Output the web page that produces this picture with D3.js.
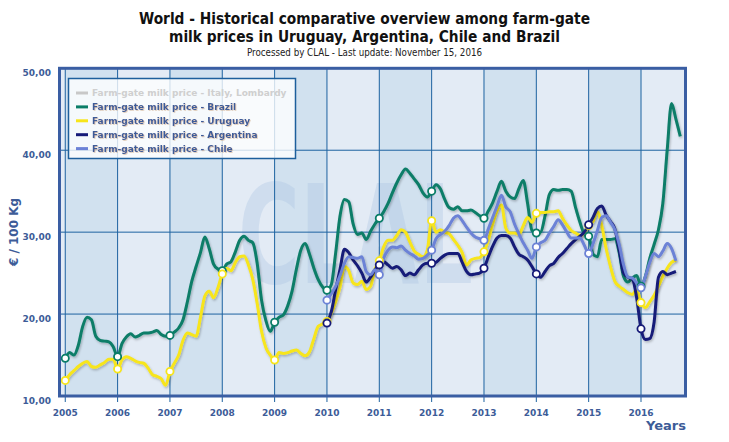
<!DOCTYPE html>
<html><head><meta charset="utf-8">
<script src="https://cdn.jsdelivr.net/npm/d3@7"></script>
<style>body{margin:0;background:#fff}</style>
</head><body>
<svg id="c" width="729" height="442"></svg>
<script>
// ---- data ----
const years = [2005,2006,2007,2008,2009,2010,2011,2012,2013,2014,2015,2016];
const yTicks = [10,20,30,40,50];
const yTickLabels = ["10,00","20,00","30,00","40,00","50,00"];
const seriesNames = ["Farm-gate milk price - Italy, Lombardy","Farm-gate milk price - Brazil","Farm-gate milk price - Uruguay","Farm-gate milk price - Argentina","Farm-gate milk price - Chile"];
// monthly values, Brazil & Uruguay from Jan 2005, Argentina & Chile from Jan 2010
const brazil = [
 14.6,15.3,15.0,16.2,18.5,19.6,19.3,17.3,16.8,16.7,16.6,16.0,
 14.8,16.4,17.2,17.6,17.2,17.4,17.7,17.7,17.8,18.0,17.5,17.3,
 17.4,17.8,18.3,19.3,21.5,24.0,25.8,27.5,29.4,28.0,26.1,25.5,
 25.3,26.1,26.4,27.6,29.0,29.5,29.0,28.7,26.2,21.7,19.2,17.9,
 19.0,19.6,19.9,21.0,22.8,25.5,27.8,28.6,27.3,25.6,24.2,23.3,
 22.9,23.6,27.5,32.0,34.0,33.7,31.0,29.7,29.9,29.1,30.1,31.0,
 31.7,32.5,33.5,34.8,36.0,37.0,37.7,37.2,36.5,35.8,34.8,34.3,
 35.0,35.8,35.3,34.0,33.0,32.8,33.1,32.6,32.6,32.7,32.4,32.0,
 31.7,32.6,33.6,35.0,36.2,35.0,34.3,34.1,35.3,36.3,33.5,30.2,
 29.9,30.0,32.0,34.6,35.2,35.1,35.2,35.2,35.0,33.0,31.2,29.8,
 29.5,27.3,27.0,29.1,29.1,29.1,29.2,27.5,24.6,23.9,24.4,24.7,
 23.4,24.6,26.8,28.5,30.3,33.5,40.0,45.7,43.8,41.7];
const uruguay = [
 11.9,12.6,13.1,13.6,14.0,14.2,13.6,13.5,13.8,14.1,14.5,14.5,
 13.3,14.4,14.8,14.6,14.3,14.1,14.0,13.4,12.6,12.4,12.1,11.3,
 13.0,14.0,15.0,16.8,17.7,17.5,17.3,19.6,22.2,22.8,22.0,23.2,
 24.9,25.6,25.3,26.3,27.0,27.1,26.0,24.2,21.3,17.9,15.9,15.0,
 14.4,15.3,15.2,15.3,15.5,15.6,15.2,14.9,15.4,17.0,18.5,18.8,
 19.1,20.1,21.5,23.3,25.8,25.3,23.8,23.6,24.0,23.0,23.4,25.5,
 26.5,28.2,29.0,29.0,29.6,30.3,30.0,28.8,27.7,27.3,27.0,27.8,
 31.4,30.0,30.3,30.0,29.8,29.1,28.4,27.5,26.0,26.6,26.8,26.9,
 27.6,29.0,31.0,32.6,33.3,30.5,29.9,29.9,29.7,30.8,31.8,31.2,
 32.3,32.4,32.4,32.5,32.5,32.6,31.7,30.9,30.2,29.9,29.6,29.9,
 30.8,31.3,32.5,30.8,28.0,25.8,24.0,23.4,23.0,22.6,22.4,23.0,
 21.4,20.8,21.5,22.3,23.4,24.6,25.6,26.3,26.6];
const argentina = [
 18.9,20.3,23.0,25.5,27.9,27.5,26.6,25.9,25.0,23.9,24.5,25.4,
 26.0,26.4,26.0,25.6,25.8,25.4,24.7,25.0,24.8,25.4,26.0,26.2,
 26.2,26.3,26.8,27.2,27.4,27.4,27.4,26.3,25.2,24.8,24.9,25.0,
 25.6,27.0,28.3,29.3,29.6,29.6,29.3,28.2,27.3,27.0,26.6,25.8,
 24.9,24.5,25.2,25.9,26.2,26.9,27.4,28.0,28.6,29.1,29.5,30.0,
 30.9,31.8,32.9,33.2,32.1,31.3,30.4,27.8,25.0,24.5,24.3,22.0,
 18.2,16.9,17.0,19.0,24.5,25.2,24.8,25.0,25.2];
const chile = [
 21.7,22.5,23.4,24.7,26.2,27.0,26.9,26.8,27.0,25.2,24.8,25.4,
 24.8,26.8,27.8,28.2,28.1,28.3,27.8,27.4,27.1,26.7,26.8,27.2,
 27.8,29.2,29.7,30.1,30.8,31.7,32.0,31.4,30.6,29.9,29.4,29.2,
 29.0,30.4,31.8,33.2,34.5,33.1,32.5,31.0,29.8,28.7,27.8,26.8,
 28.2,28.7,29.0,29.9,30.7,31.5,30.9,30.0,29.3,29.3,29.3,28.4,
 27.4,28.6,30.2,31.8,32.0,31.2,30.3,28.5,26.0,24.5,24.4,23.8,
 23.2,24.6,26.3,27.4,27.0,27.7,28.6,28.0,26.5];
const startYears = [null, 2005, 2005, 2010, 2010];
const colors = ["#c8c8c8","#0a7d67","#f7e51b","#161a78","#6c82d6"];

// ---- layout ----
const svg = d3.select('#c');
const L=59.5, R=685.5, T=68.3, B=396;
const x = d3.scaleLinear().domain([2004.89, 2016.85]).range([L,R]);
const y = d3.scaleLinear().domain([10,50]).range([B,T]);

const defs = svg.append('defs');
const f = defs.append('filter').attr('id','sh').attr('x','-5%').attr('y','-5%').attr('width','110%').attr('height','115%');
f.append('feDropShadow').attr('dx',1).attr('dy',1.5).attr('stdDeviation',0.8).attr('flood-color','#000').attr('flood-opacity',0.25);
const ft = defs.append('filter').attr('id','tsh');
ft.append('feDropShadow').attr('dx',0.8).attr('dy',0.8).attr('stdDeviation',0.3).attr('flood-color','#c9a27a').attr('flood-opacity',0.6);
defs.append('clipPath').attr('id','clip').append('rect').attr('x',L).attr('y',T).attr('width',R-L).attr('height',B-T);

// background + bands
svg.append('rect').attr('x',L).attr('y',T).attr('width',R-L).attr('height',B-T).attr('fill','#e3ebf5');
svg.append('g').selectAll('rect').data(years.filter((d,i)=>i%2===0)).join('rect')
  .attr('x',d=>x(d)).attr('y',T).attr('width',d=>Math.min(x(d+1),R)-x(d)).attr('height',B-T)
  .attr('fill','#d1e1ef');

// watermark
svg.append('text').attr('x',238).attr('y',283).attr('font-family','DejaVu Sans').attr('font-weight','bold')
  .attr('font-size',138).attr('textLength',235).attr('lengthAdjust','spacingAndGlyphs')
  .attr('fill','#a9c2e2').attr('fill-opacity',0.35).text('CLAL');

// grid
const grid = svg.append('g').attr('stroke','#1d62a0').attr('stroke-width',1);
grid.selectAll('.h').data(yTicks.slice(1,-1)).join('line').attr('x1',L).attr('x2',R).attr('y1',d=>y(d)).attr('y2',d=>y(d));
grid.selectAll('.v').data(years).join('line').attr('x1',d=>x(d)).attr('x2',d=>x(d)).attr('y1',T).attr('y2',B+6);

// axis labels
const lab = '#3d5c98';
svg.append('g').selectAll('text').data(yTicks).join('text')
  .attr('x',51).attr('y',d=>y(d)+7.5).attr('text-anchor','end')
  .attr('font-family','DejaVu Sans').attr('font-weight','bold').attr('font-size',9).attr('fill',lab)
  .text((d,i)=>yTickLabels[i]);
svg.append('g').selectAll('text').data(years).join('text')
  .attr('x',d=>x(d)).attr('y',416).attr('text-anchor','middle')
  .attr('font-family','DejaVu Sans').attr('font-weight','bold').attr('font-size',9).attr('fill',lab)
  .text(d=>d);
svg.append('text').attr('transform','translate(18,232) rotate(-90)').attr('text-anchor','middle')
  .attr('font-family','DejaVu Sans').attr('font-weight','bold').attr('font-size',12).attr('fill',lab).text('€ / 100 Kg');
svg.append('text').attr('x',686).attr('y',430).attr('text-anchor','end')
  .attr('font-family','DejaVu Sans').attr('font-weight','bold').attr('font-size',13).attr('fill',lab).text('Years');

// lines
const line = d3.line().x(d=>x(d.t)).y(d=>y(d.v)).curve(d3.curveMonotoneX);
const allData = [null, brazil, uruguay, argentina, chile];
const plot = svg.append('g').attr('clip-path','url(#clip)');
const pts = [];
for (let s=1; s<5; s++) {
  const data = allData[s].map((v,i)=>({t:startYears[s]+i/12, v, jan:i%12===0}));
  pts.push({s, data});
  plot.append('path').datum(data).attr('d',line).attr('fill','none')
    .attr('stroke',colors[s]).attr('stroke-width',3).attr('stroke-linejoin','round').attr('filter','url(#sh)');
}
pts.forEach(p=>{
  plot.append('g').selectAll('circle').data(p.data.filter(d=>d.jan)).join('circle')
    .attr('cx',d=>x(d.t)).attr('cy',d=>y(d.v)).attr('r',3.6)
    .attr('fill','#fff').attr('stroke',colors[p.s]).attr('stroke-width',1.8);
});

// border
svg.append('rect').attr('x',L).attr('y',T).attr('width',R-L).attr('height',B-T)
  .attr('fill','none').attr('stroke','#3a5ea3').attr('stroke-width',3);

// legend
const lg = svg.append('g');
lg.append('rect').attr('x',68.5).attr('y',78.5).attr('width',227).attr('height',80)
  .attr('fill','#ffffff').attr('fill-opacity',0.78).attr('stroke','#1d5f9c').attr('stroke-width',1.5);
seriesNames.forEach((n,i)=>{
  const yy = 93 + i*13.9;
  lg.append('line').attr('x1',76).attr('x2',88).attr('y1',yy).attr('y2',yy)
    .attr('stroke',colors[i]).attr('stroke-width',3);
  lg.append('text').attr('x',92).attr('y',yy+3.4)
    .attr('font-family','DejaVu Sans').attr('font-weight','bold').attr('font-size',9)
    .attr('fill', i===0 ? '#cfcfcf' : '#3d5c98').attr('filter', i===0?null:'url(#tsh)').text(n);
});

// titles
svg.append('text').attr('x',364.5).attr('y',24).attr('text-anchor','middle')
  .attr('font-family','DejaVu Sans Condensed, DejaVu Sans').attr('font-stretch','condensed').attr('font-weight','bold').attr('font-size',15.3).attr('fill','#111')
  .text('World - Historical comparative overview among farm-gate');
svg.append('text').attr('x',364.5).attr('y',42).attr('text-anchor','middle')
  .attr('font-family','DejaVu Sans Condensed, DejaVu Sans').attr('font-stretch','condensed').attr('font-weight','bold').attr('font-size',15.3).attr('fill','#111')
  .text('milk prices in Uruguay, Argentina, Chile and Brazil');
svg.append('text').attr('x',364.5).attr('y',56).attr('text-anchor','middle')
  .attr('font-family','DejaVu Sans Condensed, DejaVu Sans').attr('font-stretch','condensed').attr('font-size',9.7).attr('fill','#222')
  .text('Processed by CLAL - Last update: November 15, 2016');
</script>
</body></html>
